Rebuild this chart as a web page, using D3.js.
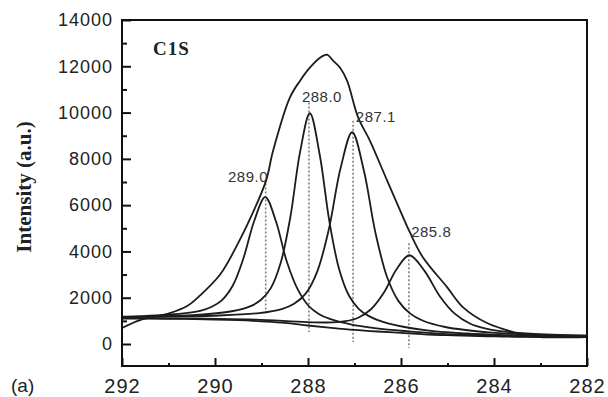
<!DOCTYPE html>
<html>
<head>
<meta charset="utf-8">
<script src="https://cdn.jsdelivr.net/npm/d3@7"></script>
<style>
  body { margin: 0; background: #fff; }
  svg { display: block; }
</style>
</head>
<body>
<div id="chart"></div>
<script>
// tick values
const xMajorTicks = [292, 290, 288, 286, 284, 282];
const xMinorTicks = [291, 289, 287, 285, 283];
const yMajorTicks = [0, 2000, 4000, 6000, 8000, 10000, 12000, 14000];
const yMinorTicks = [1000, 3000, 5000, 7000, 9000, 11000, 13000];

// measured envelope (raw spectrum)
const envX = [292.0, 291.61, 290.97, 290.60, 290.32, 289.89, 289.53, 289.18, 288.90, 288.75, 288.39, 288.17, 287.96, 287.74, 287.59, 287.46, 287.31, 287.16, 286.92, 286.67, 286.30, 286.02, 285.81, 285.53, 285.01, 284.67, 284.15, 283.72, 283.38, 283.01, 282.0];
const envY = [690, 1034, 1336, 1640, 2100, 3000, 4250, 5700, 7070, 8360, 10650, 11380, 11940, 12370, 12500, 12240, 11940, 11380, 9780, 8790, 7070, 5775, 4830, 3750, 2460, 1595, 905, 600, 390, 300, 300];

// background
const bgX = [292, 291, 290, 289.5, 289, 288.5, 288, 287.5, 287, 286.5, 286, 285.5, 285, 284.5, 284, 283.5, 283, 282];
const bgY = [1100, 1090, 1060, 1030, 980, 915, 800, 700, 610, 540, 480, 420, 380, 350, 330, 310, 300, 300];

// fitted components
const p289X = [292, 291.71, 290.78, 290.32, 290.08, 289.85, 289.62, 289.39, 289.15, 288.92, 288.69, 288.46, 288.22, 287.99, 287.76, 287.53, 287.06, 286.13, 285.2, 284.27, 283.34, 282];
const p289Y = [1184, 1198, 1306, 1434, 1598, 1899, 2518, 3695, 5360, 6350, 5305, 3590, 2358, 1654, 1290, 1084, 841, 596, 453, 377, 331, 317];

const p288X = [292, 291.32, 290.48, 289.64, 289.22, 289.01, 288.80, 288.59, 288.38, 288.17, 287.96, 287.75, 287.54, 287.33, 287.12, 286.91, 286.70, 286.28, 285.44, 284.6, 283.76, 282.92, 282];
const p288Y = [1169, 1192, 1247, 1416, 1651, 1911, 2414, 3487, 5478, 8300, 9970, 8200, 5296, 3230, 2094, 1523, 1216, 893, 588, 455, 383, 344, 332];

const p287X = [292, 291.05, 290.05, 289.05, 288.55, 288.30, 288.05, 287.80, 287.55, 287.30, 287.05, 286.80, 286.55, 286.30, 286.05, 285.80, 285.55, 285.05, 284.05, 283.05, 282];
const p287Y = [1160, 1182, 1222, 1336, 1523, 1739, 2176, 3140, 4975, 7591, 9150, 7509, 4812, 2896, 1842, 1314, 1028, 735, 493, 393, 358];

const p285X = [292, 290.22, 289.12, 288.02, 287.47, 287.195, 286.92, 286.645, 286.37, 286.095, 285.82, 285.495, 285.17, 284.845, 284.52, 284.195, 283.87, 283.22, 282];
const p285Y = [1119, 1091, 1054, 944, 933, 985, 1137, 1502, 2213, 3231, 3836, 3161, 2078, 1312, 889, 678, 560, 444, 366];

// peak labels and dotted drop lines
const peakLabels = ["289.0", "288.0", "287.1", "285.8"];
const dropX = [288.91, 287.98, 287.03, 285.83];
const dropTop = [6940, 10430, 9650, 4350];
const dropBottom = [1380, 517, 86, -172];
const labelX = [289.29, 287.70, 286.54, 285.35];
const labelY = [6980, 10470, 9610, 4610];

const W = 608, H = 397;
const svg = d3.select("#chart").append("svg")
    .attr("width", W)
    .attr("height", H);

const x = d3.scaleLinear().domain([292, 282]).range([122, 587]);
const y = d3.scaleLinear().domain([-950, 14000]).range([366, 20]);

const line = d3.line()
    .x(d => x(d[0]))
    .y(d => y(d[1]))
    .curve(d3.curveCatmullRom.alpha(0.5));

const zip = (a, b) => a.map((v, i) => [v, b[i]]);

const plot = svg.append("g");

// dotted drop lines
dropX.forEach((dx, i) => {
    plot.append("line")
        .attr("x1", x(dx)).attr("x2", x(dx))
        .attr("y1", y(dropTop[i])).attr("y2", y(dropBottom[i]))
        .style("stroke", "#808080")
        .style("stroke-width", 1.6)
        .style("stroke-dasharray", "2,2");
});

// curves
[[bgX, bgY], [p289X, p289Y], [p288X, p288Y], [p287X, p287Y], [p285X, p285Y], [envX, envY]]
    .forEach(([xs, ys]) => {
        plot.append("path")
            .datum(zip(xs, ys))
            .attr("d", line)
            .style("fill", "none")
            .style("stroke", "#1c1c1c")
            .style("stroke-width", 1.8)
            .style("stroke-linejoin", "round");
    });

// peak labels
peakLabels.forEach((t, i) => {
    plot.append("text")
        .attr("x", x(labelX[i]))
        .attr("y", y(labelY[i]))
        .attr("text-anchor", "middle")
        .style("font-family", "'Liberation Sans', Arial, sans-serif")
        .style("font-size", "15px")
        .style("letter-spacing", "0.5px")
        .style("fill", "#333")
        .text(t);
});

// frame
svg.append("rect")
    .attr("x", 122).attr("y", 20)
    .attr("width", 587 - 122).attr("height", 366 - 20)
    .style("fill", "none")
    .style("stroke", "#111")
    .style("stroke-width", 2);

// Y axis
const yAxis = svg.append("g")
    .attr("transform", "translate(122,0)")
    .call(d3.axisLeft(y).tickValues(yMajorTicks).tickSize(-9).tickPadding(9).tickFormat(d3.format("d")));
yAxis.select(".domain").remove();
yAxis.selectAll("line").style("stroke", "#111").style("stroke-width", 2);
yAxis.selectAll("text")
    .style("font-family", "'Liberation Sans', Arial, sans-serif")
    .style("font-size", "18px")
    .style("letter-spacing", "1px")
    .style("fill", "#222");

const yMinor = svg.append("g")
    .attr("transform", "translate(122,0)")
    .call(d3.axisLeft(y).tickValues(yMinorTicks).tickSize(-5).tickFormat(""));
yMinor.select(".domain").remove();
yMinor.selectAll("line").style("stroke", "#111").style("stroke-width", 2);

// X axis
const xAxis = svg.append("g")
    .attr("transform", "translate(0,366)")
    .call(d3.axisBottom(x).tickValues(xMajorTicks).tickSize(-8).tickPadding(13).tickFormat(d3.format("d")));
xAxis.select(".domain").remove();
xAxis.selectAll("line").style("stroke", "#111").style("stroke-width", 2);
xAxis.selectAll("text")
    .style("font-family", "'Liberation Sans', Arial, sans-serif")
    .style("font-size", "20px")
    .style("letter-spacing", "1px")
    .style("fill", "#222");

const xMinor = svg.append("g")
    .attr("transform", "translate(0,366)")
    .call(d3.axisBottom(x).tickValues(xMinorTicks).tickSize(-3).tickFormat(""));
xMinor.select(".domain").remove();
xMinor.selectAll("line").style("stroke", "#111").style("stroke-width", 2);

// axis title
svg.append("text")
    .attr("transform", "translate(31,187) rotate(-90)")
    .attr("text-anchor", "middle")
    .style("font-family", "'Liberation Serif', 'Times New Roman', serif")
    .style("font-weight", "bold")
    .style("font-size", "21px")
    .style("fill", "#222")
    .text("Intensity (a.u.)");

// panel text
svg.append("text")
    .attr("x", 153).attr("y", 55)
    .style("font-family", "'Liberation Serif', 'Times New Roman', serif")
    .style("font-weight", "bold")
    .style("font-size", "19px")
    .style("letter-spacing", "1px")
    .style("fill", "#222")
    .text("C1S");

svg.append("text")
    .attr("x", 11).attr("y", 392)
    .style("font-family", "'Liberation Sans', Arial, sans-serif")
    .style("font-size", "19px")
    .style("fill", "#222")
    .text("(a)");
</script>
</body>
</html>
